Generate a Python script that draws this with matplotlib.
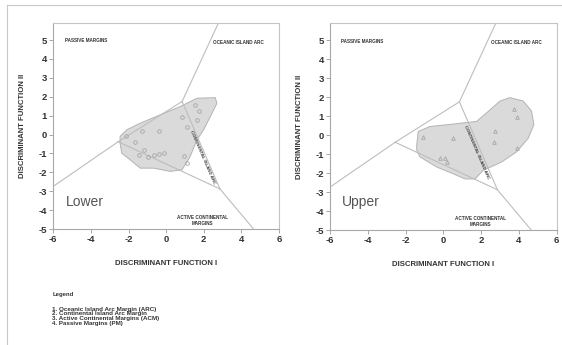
import numpy as np
import matplotlib.pyplot as plt
from matplotlib.lines import Line2D

plt.rcParams['font.family'] = ['Liberation Sans', 'DejaVu Sans']
plt.rcParams['axes.unicode_minus'] = False

# field boundaries (discriminant function space)
tri_top = (0.85, 1.75)
tri_left = (-2.55, -0.38)
tri_right = (2.86, -2.88)
edge_top = (2.78, 5.9)
edge_left = (-6.0, -2.74)
edge_bottom = (4.65, -5.0)

# sample envelopes
lower_env_x = [-2.45, -2.09, -1.38, -0.32, 0.75, 1.64, 2.61, 2.70, 2.35, 1.99, 1.64,
               1.28, 0.84, 0.22, -0.67, -1.38, -1.91, -2.36, -2.45]
lower_env_y = [-0.10, 0.25, 0.60, 1.04, 1.48, 1.92, 1.95, 1.65, 0.95, 0.25, -0.28,
               -1.16, -1.87, -1.95, -1.78, -1.78, -1.34, -0.99, -0.46]
upper_env_x = [-1.41, -1.33, -0.71, 0.53, 1.76, 2.29, 3.00, 3.52, 4.23, 4.67, 4.79,
               4.49, 3.88, 3.08, 2.11, 1.67, 1.14, 0.53, -0.36, -1.24, -1.41]
upper_env_y = [-0.53, 0.19, 0.45, 0.58, 0.72, 1.17, 1.79, 1.97, 1.79, 1.26, 0.54,
               -0.17, -0.88, -1.42, -1.86, -2.31, -2.31, -2.04, -1.68, -1.15, -0.79]

# samples
lower_x = [-2.13, -1.29, -0.40, -1.65, -1.20, -1.47, -0.67, -0.14, 0.84, 1.10, 1.55,
           1.73, 1.64, 0.93, 1.10, -0.95, -0.40]
lower_y = [-0.10, 0.16, 0.19, -0.37, -0.81, -1.07, -1.07, -0.99, 0.95, 0.42, 1.57,
           1.25, 0.77, -1.16, -1.51, -1.20, -1.05]
upper_x = [-1.06, 0.53, -0.18, 0.10, 0.20, 2.73, 2.69, 3.75, 3.91, 3.88]
upper_y = [-0.08, -0.17, -1.20, -1.20, -1.40, 0.22, -0.35, 1.35, 0.94, -0.70]

xticks = [-6, -4, -2, 0, 2, 4, 6]
yticks = [5, 4, 3, 2, 1, 0, -1, -2, -3, -4, -5]

legend_lines = ['1. Oceanic Island Arc Margin (ARC)',
                '2. Continental Island Arc Margin',
                '3. Active Continental Margins (ACM)',
                '4. Passive Margins (PM)']

line_col = '#bdbdbd'
txt_col = '#333333'

fig = plt.figure(figsize=(5.62, 3.45), dpi=100)
ax1 = fig.add_axes([0.0949, 0.3362, 0.4015, 0.5971])
ax2 = fig.add_axes([0.5872, 0.3333, 0.4034, 0.6000])


def draw_panel(ax, env_x, env_y, px, py, marker, name, cia_xy):
    ax.fill(env_x, env_y, facecolor='#dadada', edgecolor='#b3b3b3', lw=0.7,
            joinstyle='round', zorder=1)
    segs = [(tri_top, edge_top), (tri_top, tri_left), (tri_left, edge_left),
            (tri_left, tri_right), (tri_top, tri_right), (tri_right, edge_bottom)]
    for a, b in segs:
        ax.plot([a[0], b[0]], [a[1], b[1]], color=line_col, lw=0.8, zorder=2)
    ax.plot(px, py, ls='none', marker=marker, ms=2.6, mfc='none', mec='#a5a5a5',
            mew=0.6, zorder=3)

    ax.text(-5.4, 4.95, 'PASSIVE MARGINS', fontsize=3.3, fontweight='bold',
            color=txt_col, va='center')
    ax.text(2.5, 4.88, 'OCEANIC ISLAND ARC', fontsize=3.3, fontweight='bold',
            color=txt_col, va='center')
    ax.text(1.95, -4.55, 'ACTIVE CONTINENTAL\nMARGINS', fontsize=3.3,
            fontweight='bold', color=txt_col, ha='center', va='center',
            linespacing=1.3)
    ax.text(cia_xy[0], cia_xy[1], 'CONTINENTAL ISLAND ARC', fontsize=3.2,
            fontweight='bold', color='#3a3a3a', rotation=-66.5,
            rotation_mode='anchor', ha='center', va='center', zorder=4)
    ax.text(-5.35, -3.55, name, fontsize=10, color='#555555', va='center')

    ax.set_xlim(-6, 6)
    ax.set_ylim(-5, 5.9)
    ax.set_xticks(xticks)
    ax.set_yticks(yticks)
    ax.tick_params(length=3, width=0.6, color='#999999', labelsize=6.8,
                   labelcolor=txt_col, pad=1.5)
    for lab in ax.get_xticklabels() + ax.get_yticklabels():
        lab.set_fontweight('bold')
    for s in ax.spines.values():
        s.set_color('#c4c4c4')
        s.set_linewidth(0.8)
    ax.spines['left'].set_color('#a8a8a8')
    ax.spines['bottom'].set_color('#a8a8a8')
    ax.set_xlabel('DISCRIMINANT FUNCTION I', fontsize=5.6, fontweight='bold',
                  color=txt_col, labelpad=11)
    ax.set_ylabel('DISCRIMINANT FUNCTION II', fontsize=5.6, fontweight='bold',
                  color=txt_col, labelpad=9)


draw_panel(ax1, lower_env_x, lower_env_y, lower_x, lower_y, 'o', 'Lower', (1.92, -1.2))
draw_panel(ax2, upper_env_x, upper_env_y, upper_x, upper_y, '^', 'Upper', (1.77, -0.9))

# legend block under the panels
fig.text(0.093, 0.145, 'Legend', fontsize=4.3, fontweight='bold', color=txt_col,
         va='center')
for i, s in enumerate(legend_lines):
    fig.text(0.093, 0.104 - i * 0.0137, s, fontsize=4.5, fontweight='bold',
             color=txt_col, va='center')

# page frame lines
fig.add_artist(Line2D([0.0125, 1.0], [0.985, 0.985], color='#c8c8c8', lw=0.8))
fig.add_artist(Line2D([0.0125, 0.0125], [0.0, 0.985], color='#c8c8c8', lw=0.8))

fig.savefig('out.png', dpi=100)
